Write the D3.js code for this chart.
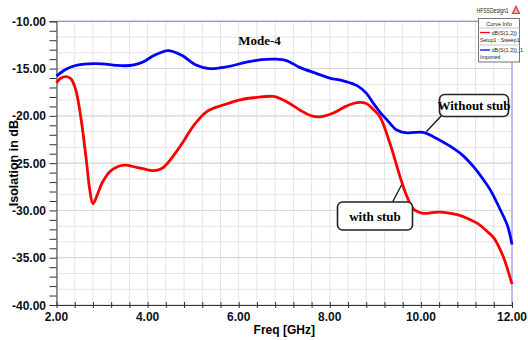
<!DOCTYPE html>
<html><head><meta charset="utf-8">
<script src="https://cdn.jsdelivr.net/npm/d3@7"></script>
<style>
html,body{margin:0;padding:0;background:#fff;}
svg{display:block;}
.tick-lbl{font-family:"Liberation Sans Narrow","Arial Narrow","Liberation Sans",Arial,sans-serif;font-weight:bold;font-size:12px;fill:#111;}
</style></head>
<body>
<svg id="c" width="528" height="340"></svg>
<script>
// ---- data ----
const xTicks = [2, 4, 6, 8, 10, 12];
const yTicks = [-10, -15, -20, -25, -30, -35, -40];
const freqBlue = [2.0,2.2,2.4,2.7,3.0,3.3,3.5,3.7,3.9,4.15,4.45,4.75,5.05,5.35,5.7,6.15,6.5,6.8,7.05,7.35,7.7,8.0,8.3,8.6,8.8,8.96,9.1,9.25,9.47,9.69,9.85,10.05,10.27,10.64,10.9,11.15,11.35,11.52,11.74,11.9,12.0];
const dbBlue = [-15.8,-15.1,-14.7,-14.5,-14.5,-14.65,-14.7,-14.6,-14.3,-13.6,-13.1,-13.6,-14.6,-15.0,-14.85,-14.35,-14.05,-14.0,-14.15,-14.9,-15.5,-16.0,-16.3,-16.8,-17.6,-18.7,-19.6,-20.4,-21.5,-21.8,-21.75,-21.75,-22.2,-23.2,-24.1,-25.35,-26.6,-27.8,-29.9,-31.6,-33.6];
const freqRed = [2.0,2.1,2.22,2.32,2.42,2.52,2.6,2.66,2.73,2.8,2.9,3.0,3.17,3.35,3.5,3.76,4.0,4.13,4.3,4.42,4.6,4.8,5.0,5.3,5.66,6.03,6.4,6.76,7.05,7.35,7.6,7.78,8.08,8.35,8.6,8.8,8.95,9.1,9.32,9.54,9.7,9.85,10.05,10.3,10.5,10.8,11.05,11.25,11.45,11.6,11.8,12.0];
const dbRed = [-16.5,-16.0,-15.85,-16.1,-17.2,-19.7,-22.5,-24.9,-27.8,-29.3,-28.3,-27.1,-25.9,-25.35,-25.2,-25.45,-25.7,-25.8,-25.6,-25.1,-24.0,-22.6,-21.1,-19.55,-18.85,-18.3,-18.05,-17.95,-18.5,-19.4,-20.0,-20.1,-19.7,-19.0,-18.6,-18.7,-19.3,-20.1,-22.9,-26.4,-28.6,-29.9,-30.3,-30.2,-30.2,-30.45,-30.9,-31.4,-32.2,-32.9,-34.8,-37.8];
const legendNames = ["dB(S(1,2))", "dB(S(1,2))_1"];
const legendSubs = ["Setup1 : Sweep1", "Imported"];
const seriesColors = ["#ff0000", "#0000ff"];

// ---- layout ----
const svg = d3.select("#c");
const L = 56.5, R = 512, T = 21.3, B = 305;
const x = d3.scaleLinear().domain([2, 12]).range([L, R]);
const y = d3.scaleLinear().domain([-40, -10]).range([B, T]);

// grid
const g = svg.append("g");
const xMinor = d3.range(2, 12.0001, 0.4);
const yMinor = d3.range(-40, -9.999, 5/3);
g.selectAll("line.vg").data(xMinor).join("line")
  .attr("x1", d => x(d)).attr("x2", d => x(d)).attr("y1", T).attr("y2", B)
  .attr("stroke", "#e4e4e4").attr("stroke-width", 1);
g.selectAll("line.hg").data(yMinor).join("line")
  .attr("x1", L).attr("x2", R).attr("y1", d => y(d)).attr("y2", d => y(d))
  .attr("stroke", "#e4e4e4").attr("stroke-width", 1);
g.selectAll("line.hm").data(yTicks).join("line")
  .attr("x1", L).attr("x2", R).attr("y1", d => y(d)).attr("y2", d => y(d))
  .attr("stroke", "#d6d6d6").attr("stroke-width", 1);

// top & right borders (light blue)
svg.append("line").attr("x1", L).attr("x2", R).attr("y1", T).attr("y2", T).attr("stroke", "#8c8cf5").attr("stroke-width", 1.2);
svg.append("line").attr("x1", R).attr("x2", R).attr("y1", T).attr("y2", B).attr("stroke", "#aaaaf8").attr("stroke-width", 1.5);

// axes
const yAxis = d3.axisLeft(y).tickValues(d3.range(-40, -9.999, 1)).tickSize(7).tickFormat("");
const ya = svg.append("g").attr("transform", `translate(${L},0)`).call(yAxis);
ya.selectAll("path,line").attr("stroke", "#333");
const xAxis = d3.axisBottom(x).tickValues(xMinor).tickSizeInner(-3).tickSizeOuter(0).tickFormat("");
const xa = svg.append("g").attr("transform", `translate(0,${B})`).call(xAxis);
xa.selectAll("path,line").attr("stroke", "#333");
xa.selectAll(".tick line").attr("y1", 3).attr("y2", -3);

svg.selectAll("text.yl").data(yTicks).join("text").attr("class", "tick-lbl")
  .attr("x", 46).attr("y", d => y(d) + 4.5).attr("text-anchor", "end")
  .text(d => d.toFixed(2));
svg.selectAll("text.xl").data(xTicks).join("text").attr("class", "tick-lbl")
  .attr("x", d => x(d)).attr("y", 321).attr("text-anchor", "middle")
  .text(d => d.toFixed(2));

svg.append("text").attr("x", (L + R) / 2).attr("y", 334).attr("text-anchor", "middle")
  .attr("font-family", "Liberation Sans, Arial, sans-serif").attr("font-weight", "bold").attr("font-size", 12)
  .text("Freq [GHz]");
svg.append("text").attr("transform", `translate(18,${(T + B) / 2}) rotate(-90)`).attr("text-anchor", "middle")
  .attr("font-family", "Liberation Sans, Arial, sans-serif").attr("font-weight", "bold").attr("font-size", 12.5)
  .text("Isolation in dB");

// curves
const line = d3.line().x(d => x(d[0])).y(d => y(d[1])).curve(d3.curveCatmullRom.alpha(0.5));
svg.append("path").datum(freqBlue.map((f, i) => [f, dbBlue[i]]))
  .attr("d", line).attr("fill", "none").attr("stroke", seriesColors[1]).attr("stroke-width", 2.8).attr("stroke-linejoin", "round");
svg.append("path").datum(freqRed.map((f, i) => [f, dbRed[i]]))
  .attr("d", line).attr("fill", "none").attr("stroke", seriesColors[0]).attr("stroke-width", 2.8).attr("stroke-linejoin", "round");

// Mode-4
svg.append("text").attr("x", 259.5).attr("y", 44.5).attr("text-anchor", "middle")
  .attr("font-family", "Liberation Serif, Times New Roman, serif").attr("font-weight", "bold").attr("font-size", 13)
  .text("Mode-4");

// callouts
function callout(bx, by, bw, bh, label, lx1, ly1, lx2, ly2) {
  svg.append("line").attr("x1", lx1).attr("y1", ly1).attr("x2", lx2).attr("y2", ly2).attr("stroke", "#111").attr("stroke-width", 1.3);
  svg.append("rect").attr("x", bx).attr("y", by).attr("width", bw).attr("height", bh).attr("rx", 5)
    .attr("fill", "#fff").attr("stroke", "#222").attr("stroke-width", 1.6);
  svg.append("text").attr("x", bx + bw / 2).attr("y", by + bh / 2 + 4.5).attr("text-anchor", "middle")
    .attr("font-family", "Liberation Serif, Times New Roman, serif").attr("font-weight", "bold").attr("font-size", 13)
    .text(label);
}
callout(439.5, 94.5, 69, 22, "Without stub", 443, 114, 426.5, 131.5);
callout(337.5, 202, 75, 28, "with stub", 391.5, 204, 401.5, 185);

// HFSSDesign1 header & logo
svg.append("text").attr("x", 476.5).attr("y", 13).attr("text-anchor", "start")
  .attr("font-family", "Liberation Sans Narrow, Liberation Sans, Arial, sans-serif").attr("font-size", 7.5).attr("fill", "#222")
  .attr("textLength", 32).attr("lengthAdjust", "spacingAndGlyphs")
  .text("HFSSDesign1");
svg.append("path").attr("d", "M516,5 L520.5,14 L511.5,14 Z").attr("fill", "#d04040");
svg.append("path").attr("d", "M516,8 L518.5,13 L513.5,13 Z").attr("fill", "#f0b0b0");

// legend box
const lg = svg.append("g");
lg.append("rect").attr("x", 478.5).attr("y", 18.5).attr("width", 41).attr("height", 43.5)
  .attr("fill", "#fff").attr("stroke", "#777").attr("stroke-width", 1);
lg.append("text").attr("x", 499).attr("y", 25.5).attr("text-anchor", "middle")
  .attr("font-family", "Liberation Sans Narrow, Liberation Sans, Arial, sans-serif").attr("font-size", 5.5).attr("fill", "#222")
  .text("Curve Info");
lg.append("line").attr("x1", 478.5).attr("x2", 519.5).attr("y1", 28).attr("y2", 28).attr("stroke", "#aaa").attr("stroke-width", 0.7);
lg.append("line").attr("x1", 478.5).attr("x2", 519.5).attr("y1", 45).attr("y2", 45).attr("stroke", "#aaa").attr("stroke-width", 0.7);
const ly0 = [32.5, 50];
legendNames.forEach((n, i) => {
  lg.append("line").attr("x1", 480).attr("x2", 490).attr("y1", ly0[i]).attr("y2", ly0[i]).attr("stroke", seriesColors[i]).attr("stroke-width", 1.3);
  lg.append("text").attr("x", 491.5).attr("y", ly0[i] + 2).attr("font-family", "Liberation Sans Narrow, Liberation Sans, Arial, sans-serif")
    .attr("font-size", 5.5).attr("fill", "#222").text(n);
  lg.append("text").attr("x", 480).attr("y", ly0[i] + 9).attr("font-family", "Liberation Sans Narrow, Liberation Sans, Arial, sans-serif")
    .attr("font-size", 5.2).attr("fill", "#222").text(legendSubs[i]);
});
</script>
</body></html>
